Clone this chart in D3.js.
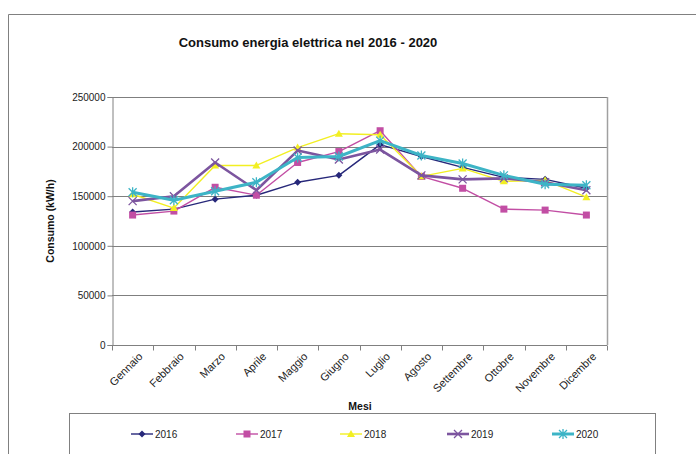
<!DOCTYPE html>
<html>
<head>
<meta charset="utf-8">
<script src="https://cdn.jsdelivr.net/npm/d3@7"></script>
<style>
  html, body { margin: 0; padding: 0; background: #fff; }
  svg { display: block; font-family: "Liberation Sans", Arial, sans-serif; }
</style>
</head>
<body>
<svg id="chart" width="696" height="454"></svg>
<script>
// Monthly electricity consumption (kW/h), 2016-2020
const months = ["Gennaio", "Febbraio", "Marzo", "Aprile", "Maggio", "Giugno",
                "Luglio", "Agosto", "Settembre", "Ottobre", "Novembre", "Dicembre"];
const years = ["2016", "2017", "2018", "2019", "2020"];
const values2016 = [134000, 137000, 147000, 151000, 164000, 171000, 202000, 190000, 179000, 169000, 167000, 158000];
const values2017 = [131000, 135000, 159000, 151000, 184000, 195000, 216000, 170000, 158000, 137000, 136000, 131000];
const values2018 = [152000, 138000, 181000, 181000, 199000, 213000, 212000, 170000, 178000, 165000, 166000, 149000];
const values2019 = [145000, 150000, 184000, 156000, 196000, 187000, 197000, 171000, 167000, 168000, 164000, 156000];
const values2020 = [154000, 146000, 155000, 164000, 189000, 190000, 206000, 191000, 183000, 171000, 162000, 161000];
const yTicks = [0, 50000, 100000, 150000, 200000, 250000];

const seriesList = [
  { name: years[0], values: values2016, color: "#27287a", width: 1.4, marker: "diamond" },
  { name: years[1], values: values2017, color: "#c24ea4", width: 1.4, marker: "square" },
  { name: years[2], values: values2018, color: "#f2ef22", width: 1.4, marker: "triangle" },
  { name: years[3], values: values2019, color: "#7c559f", width: 2.6, marker: "cross" },
  { name: years[4], values: values2020, color: "#3db4c6", width: 3.0, marker: "star" }
];

const svg = d3.select("#chart");
const plot = { left: 112, top: 97, right: 607, bottom: 345 };

// outer chart frame
svg.append("path")
  .attr("d", "M8.5,460 V14.5 H700")
  .attr("fill", "none").attr("stroke", "#808080").attr("stroke-width", 1);

const x = d3.scaleBand().domain(months).range([plot.left, plot.right]);
const y = d3.scaleLinear().domain([0, 250000]).range([plot.bottom, plot.top]);

// horizontal grid
svg.append("g").selectAll("line").data(yTicks.filter(t => t > 0)).join("line")
  .attr("x1", plot.left).attr("x2", plot.right)
  .attr("y1", d => Math.round(y(d)) + 0.5).attr("y2", d => Math.round(y(d)) + 0.5)
  .attr("stroke", "#7f7f7f").attr("stroke-width", 1);

// plot area right border
svg.append("line")
  .attr("x1", plot.right + 0.5).attr("x2", plot.right + 0.5)
  .attr("y1", plot.top).attr("y2", plot.bottom)
  .attr("stroke", "#a0a0a0").attr("stroke-width", 1.5);

// y axis
const yAxis = svg.append("g")
  .attr("transform", `translate(${plot.left + 0.5},0)`)
  .call(d3.axisLeft(y).tickValues(yTicks).tickFormat(d3.format("d")).tickSize(5).tickPadding(2));
yAxis.select(".domain").attr("stroke", "#808080");
yAxis.selectAll(".tick line").attr("stroke", "#808080");
yAxis.selectAll(".tick text").attr("font-size", 10).attr("fill", "#222")
  .attr("font-family", "Liberation Sans, Arial, sans-serif");

// x axis with ticks between categories
const xAxisG = svg.append("g").attr("transform", `translate(0,${plot.bottom + 0.5})`);
xAxisG.append("line").attr("x1", plot.left).attr("x2", plot.right)
  .attr("stroke", "#808080");
const boundaries = months.map(m => x(m)).concat([plot.right]);
xAxisG.selectAll("line.tk").data(boundaries).join("line").attr("class", "tk")
  .attr("x1", d => Math.round(d) + 0.5).attr("x2", d => Math.round(d) + 0.5)
  .attr("y1", 0).attr("y2", 5).attr("stroke", "#808080");
xAxisG.selectAll("text").data(months).join("text")
  .attr("transform", d => `translate(${x(d) + x.bandwidth() / 2 + 8},${9}) rotate(-45)`)
  .attr("text-anchor", "end")
  .attr("dy", "0.35em")
  .attr("font-size", 11).attr("fill", "#222")
  .text(d => d);

// titles
svg.append("text").attr("x", 308).attr("y", 47).attr("text-anchor", "middle")
  .attr("font-size", 13).attr("font-weight", "bold").attr("fill", "#111")
  .text("Consumo energia elettrica nel 2016 - 2020");
svg.append("text").attr("transform", "translate(54,221) rotate(-90)")
  .attr("text-anchor", "middle").attr("font-size", 10.5).attr("font-weight", "bold").attr("fill", "#111")
  .text("Consumo (kW/h)");
svg.append("text").attr("x", 360).attr("y", 410).attr("text-anchor", "middle")
  .attr("font-size", 10.5).attr("font-weight", "bold").attr("fill", "#111")
  .text("Mesi");

// marker shapes
function drawMarker(g, type, color, cx, cy) {
  if (type === "diamond") {
    g.append("path").attr("d", `M${cx},${cy - 3.5}L${cx + 3.5},${cy}L${cx},${cy + 3.5}L${cx - 3.5},${cy}Z`)
      .attr("fill", color);
  } else if (type === "square") {
    g.append("rect").attr("x", cx - 3.5).attr("y", cy - 3.5).attr("width", 7).attr("height", 7)
      .attr("fill", color);
  } else if (type === "triangle") {
    g.append("path").attr("d", `M${cx},${cy - 4}L${cx + 4},${cy + 3}L${cx - 4},${cy + 3}Z`)
      .attr("fill", color);
  } else if (type === "cross") {
    g.append("path").attr("d", `M${cx - 4},${cy - 4}L${cx + 4},${cy + 4}M${cx - 4},${cy + 4}L${cx + 4},${cy - 4}`)
      .attr("stroke", color).attr("stroke-width", 1.3);
  } else if (type === "star") {
    g.append("path").attr("d", `M${cx - 4},${cy - 4}L${cx + 4},${cy + 4}M${cx - 4},${cy + 4}L${cx + 4},${cy - 4}M${cx},${cy - 5}L${cx},${cy + 5}`)
      .attr("stroke", color).attr("stroke-width", 1.3);
  }
}

// series lines and markers
const line = d3.line()
  .x((d, i) => x(months[i]) + x.bandwidth() / 2)
  .y(d => y(d));

seriesList.forEach(s => {
  const g = svg.append("g");
  g.append("path").datum(s.values).attr("d", line)
    .attr("fill", "none").attr("stroke", s.color).attr("stroke-width", s.width)
    .attr("stroke-linejoin", "round");
  s.values.forEach((v, i) => drawMarker(g, s.marker, s.color, x(months[i]) + x.bandwidth() / 2, y(v)));
});

// legend box
svg.append("rect").attr("x", 69.5).attr("y", 413.5).attr("width", 586).attr("height", 60)
  .attr("fill", "#fff").attr("stroke", "#808080").attr("stroke-width", 1);
const legendX = [131, 236, 340, 447, 552];
seriesList.forEach((s, i) => {
  const g = svg.append("g").attr("transform", `translate(${legendX[i]},434)`);
  g.append("line").attr("x1", 0).attr("x2", 22).attr("y1", 0).attr("y2", 0)
    .attr("stroke", s.color).attr("stroke-width", s.width);
  drawMarker(g, s.marker, s.color, 11, 0);
  g.append("text").attr("x", 24).attr("y", 0).attr("dy", "0.35em")
    .attr("font-size", 10).attr("fill", "#222").text(s.name);
});
</script>
</body>
</html>
